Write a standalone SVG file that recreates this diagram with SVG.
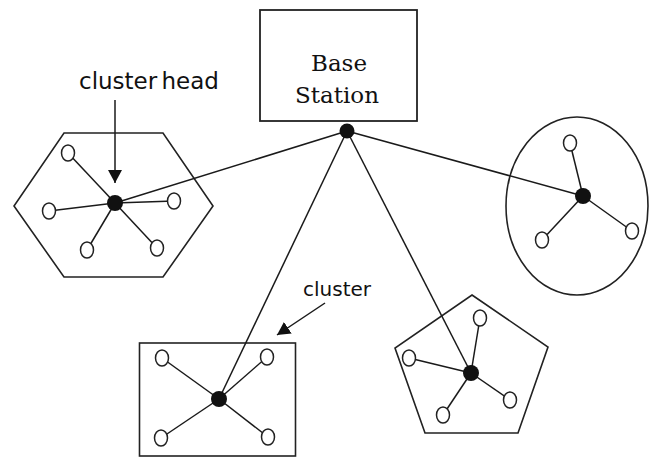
<svg xmlns="http://www.w3.org/2000/svg" width="650" height="457" viewBox="0 0 650 457">
  <style>
    .shape { fill: none; stroke: #222; stroke-width: 1.6; }
    .box { fill: #fff; stroke: #222; stroke-width: 1.8; }
    .link { stroke: #1a1a1a; stroke-width: 1.5; fill: none; }
    .member { fill: #fff; stroke: #222; stroke-width: 1.5; }
    .head { fill: #111; stroke: none; }
    .serif { font-family: "DejaVu Serif", "Liberation Serif", serif; font-size: 23px; fill: #111; text-anchor: middle; }
    .label { font-family: "DejaVu Sans", "Liberation Sans", sans-serif; fill: #111; }
  </style>
  <defs>
    <marker id="arrow" viewBox="0 0 10 10" refX="10" refY="5" markerWidth="13" markerHeight="14" markerUnits="userSpaceOnUse" orient="auto" preserveAspectRatio="none">
      <path d="M0,0 L10,5 L0,10 z" fill="#111"/>
    </marker>
  </defs>
  <rect width="650" height="457" fill="#fff"/>

  <!-- cluster boundaries -->
  <g id="cluster-hexagon">
    <polygon class="shape" points="64,133 163,133 213,206 163,277 64,277 14,206"/>
  </g>
  <g id="cluster-ellipse">
    <ellipse class="shape" cx="577" cy="206" rx="71" ry="89"/>
  </g>
  <g id="cluster-rectangle">
    <rect class="shape" x="139.5" y="343" width="156" height="113"/>
  </g>
  <g id="cluster-pentagon">
    <polygon class="shape" points="472,295 548,347 518,433 425,433 395,348"/>
  </g>

  <!-- base station -->
  <g id="base-station">
    <rect class="box" x="260" y="10" width="157" height="111"/>
    <text class="serif" x="339" y="71">Base</text>
    <text class="serif" x="337" y="103">Station</text>
  </g>

  <!-- labels -->
  <g id="label-cluster-head">
    <text class="label" x="79" y="89" font-size="23" word-spacing="-3">cluster head</text>
  </g>
  <g id="label-cluster">
    <text class="label" x="303" y="296" font-size="20">cluster</text>
  </g>

  <!-- connectors -->
  <g id="connectors">
    <line class="link" x1="347" y1="131" x2="115" y2="203"/>
    <line class="link" x1="347" y1="131" x2="583" y2="196"/>
    <line class="link" x1="347" y1="131" x2="219" y2="399"/>
    <line class="link" x1="347" y1="131" x2="471" y2="373"/>

    <line class="link" x1="115" y1="203" x2="68" y2="153"/>
    <line class="link" x1="115" y1="203" x2="49" y2="211"/>
    <line class="link" x1="115" y1="203" x2="174" y2="201"/>
    <line class="link" x1="115" y1="203" x2="87" y2="250"/>
    <line class="link" x1="115" y1="203" x2="157" y2="248"/>

    <line class="link" x1="583" y1="196" x2="570" y2="143"/>
    <line class="link" x1="583" y1="196" x2="542" y2="240"/>
    <line class="link" x1="583" y1="196" x2="632" y2="231"/>

    <line class="link" x1="219" y1="399" x2="162" y2="358"/>
    <line class="link" x1="219" y1="399" x2="267" y2="357"/>
    <line class="link" x1="219" y1="399" x2="161" y2="438"/>
    <line class="link" x1="219" y1="399" x2="268" y2="437"/>

    <line class="link" x1="471" y1="373" x2="480" y2="318"/>
    <line class="link" x1="471" y1="373" x2="409" y2="358"/>
    <line class="link" x1="471" y1="373" x2="510" y2="400"/>
    <line class="link" x1="471" y1="373" x2="443" y2="415"/>

    <line class="link" x1="115" y1="100" x2="115" y2="183" marker-end="url(#arrow)"/>
    <line class="link" x1="325" y1="303" x2="277" y2="335" marker-end="url(#arrow)"/>
  </g>

  <!-- base station hub -->
  <g id="hub"><circle class="head" cx="347" cy="131" r="7.5"/></g>

  <!-- cluster heads -->
  <g id="head-hexagon"><circle class="head" cx="115" cy="203" r="8"/></g>
  <g id="head-ellipse"><circle class="head" cx="583" cy="196" r="8"/></g>
  <g id="head-rectangle"><circle class="head" cx="219" cy="399" r="8"/></g>
  <g id="head-pentagon"><circle class="head" cx="471" cy="373" r="8"/></g>

  <!-- member nodes -->
  <g id="hex-n1"><ellipse class="member" cx="68" cy="153" rx="6.5" ry="8"/></g>
  <g id="hex-n2"><ellipse class="member" cx="49" cy="211" rx="6.5" ry="8"/></g>
  <g id="hex-n3"><ellipse class="member" cx="174" cy="201" rx="6.5" ry="8"/></g>
  <g id="hex-n4"><ellipse class="member" cx="87" cy="250" rx="6.5" ry="8"/></g>
  <g id="hex-n5"><ellipse class="member" cx="157" cy="248" rx="6.5" ry="8"/></g>

  <g id="ell-n1"><ellipse class="member" cx="570" cy="143" rx="6.5" ry="8"/></g>
  <g id="ell-n2"><ellipse class="member" cx="542" cy="240" rx="6.5" ry="8"/></g>
  <g id="ell-n3"><ellipse class="member" cx="632" cy="231" rx="6.5" ry="8"/></g>

  <g id="rect-n1"><ellipse class="member" cx="162" cy="358" rx="6.5" ry="8"/></g>
  <g id="rect-n2"><ellipse class="member" cx="267" cy="357" rx="6.5" ry="8"/></g>
  <g id="rect-n3"><ellipse class="member" cx="161" cy="438" rx="6.5" ry="8"/></g>
  <g id="rect-n4"><ellipse class="member" cx="268" cy="437" rx="6.5" ry="8"/></g>

  <g id="pent-n1"><ellipse class="member" cx="480" cy="318" rx="6.5" ry="8"/></g>
  <g id="pent-n2"><ellipse class="member" cx="409" cy="358" rx="6.5" ry="8"/></g>
  <g id="pent-n3"><ellipse class="member" cx="510" cy="400" rx="6.5" ry="8"/></g>
  <g id="pent-n4"><ellipse class="member" cx="443" cy="415" rx="6.5" ry="8"/></g>
</svg>
